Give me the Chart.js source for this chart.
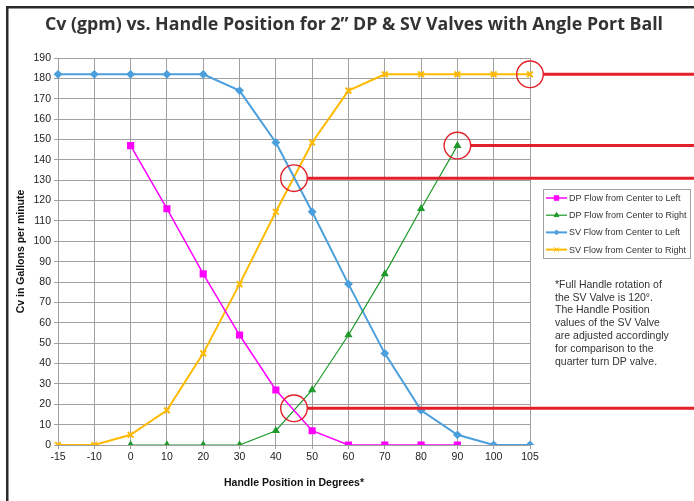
<!DOCTYPE html>
<html>
<head>
<meta charset="utf-8">
<script src="https://cdn.jsdelivr.net/npm/chart.js@4.4.1/dist/chart.umd.min.js"></script>
<style>
  html, body { margin: 0; padding: 0; background: #fff; }
  #wrap { width: 694px; height: 501px; position: relative; }
</style>
</head>
<body>
<div id="wrap"><canvas id="cvChart" width="694" height="501"></canvas></div>
<script>
const positions = ["-15", "-10", "0", "10", "20", "30", "40", "50", "60", "70", "80", "90", "100", "105"];
const positionDeg = [-15, -10, 0, 10, 20, 30, 40, 50, 60, 70, 80, 90, 100, 105];

const dpLeft = [null, null, 147, 116, 84, 54, 27, 7, 0, 0, 0, 0, null, null];
const dpRight = [null, null, 0, 0, 0, 0, 7, 27, 54, 84, 116, 147, null, null];
const svLeft = [182, 182, 182, 182, 182, 174, 148.5, 114.5, 79, 45, 17, 5, 0, 0];
const svRight = [0, 0, 5, 17, 45, 79, 114.5, 148.5, 174, 182, 182, 182, 182, 182];

// red callouts (degrees, Cv)
const calloutDeg = [105, 90, 45, 45];
const calloutCv = [182, 147, 131, 18];

const chartTitle = "Cv (gpm) vs. Handle Position for 2\u201D DP & SV Valves with Angle Port Ball";
const noteLines = [
  "*Full Handle rotation of",
  "the SV Valve is 120\u00B0.",
  "The Handle Position",
  "values of the SV Valve",
  "are adjusted accordingly",
  "for comparison to the",
  "quarter turn DP valve."
];

const FONT = "'Liberation Sans', Arial, sans-serif";

function degToIndex(deg) {
  for (let i = 0; i < positionDeg.length - 1; i++) {
    const a = positionDeg[i], b = positionDeg[i + 1];
    if (deg >= a && deg <= b) return i + (deg - a) / (b - a);
  }
  return positionDeg.length - 1;
}

const extras = {
  id: "extras",
  afterDraw(chart) {
    const ctx = chart.ctx;
    const xs = chart.scales.x, ys = chart.scales.y;
    ctx.save();

    // frame
    ctx.fillStyle = "#2a2a2a";
    ctx.fillRect(6, 6, 688, 2.5);
    ctx.fillRect(6, 6, 2.5, 495);

    // title
    ctx.fillStyle = "#333";
    ctx.font = "bold 18px 'Open Sans', 'DejaVu Sans', sans-serif";
    ctx.textBaseline = "middle";
    ctx.textAlign = "left";
    const tw = ctx.measureText(chartTitle).width;
    const target = 618;
    ctx.save();
    ctx.translate(45, 25);
    ctx.scale(Math.min(1, target / tw), 1);
    ctx.fillText(chartTitle, 0, 0);
    ctx.restore();

    // legend
    const lx = 543.5, ly = 189.5, lw = 147, lh = 69;
    ctx.fillStyle = "#fff";
    ctx.fillRect(lx, ly, lw, lh);
    ctx.strokeStyle = "#a0a0a0";
    ctx.lineWidth = 1;
    ctx.strokeRect(lx, ly, lw, lh);
    chart.data.datasets.forEach((ds, i) => {
      const y = 198 + i * 17.2;
      ctx.strokeStyle = ds.borderColor;
      ctx.lineWidth = ds.borderWidth;
      ctx.beginPath();
      ctx.moveTo(546, y);
      ctx.lineTo(567, y);
      ctx.stroke();
      ctx.fillStyle = ds.pointBackgroundColor;
      ctx.strokeStyle = ds.pointBorderColor;
      ctx.lineWidth = 1;
      Chart.helpers.drawPoint(ctx, { pointStyle: ds.pointStyle, rotation: 0, radius: ds.pointRadius * 0.8, borderWidth: 1 }, 556.5, y);
      ctx.fillStyle = "#333";
      ctx.font = "9px " + FONT;
      ctx.textAlign = "left";
      ctx.textBaseline = "middle";
      ctx.fillText(ds.label, 569, y + 0.5);
    });

    // note
    ctx.fillStyle = "#333";
    ctx.font = "10.5px " + FONT;
    noteLines.forEach((t, i) => ctx.fillText(t, 555, 285 + i * 12.8));

    // red callouts
    ctx.strokeStyle = "#e3202a";
    calloutDeg.forEach((d, i) => {
      const cx = xs.getPixelForValue(degToIndex(d));
      const cy = ys.getPixelForValue(calloutCv[i]);
      ctx.lineWidth = 1.4;
      ctx.beginPath();
      ctx.arc(cx, cy, 13.3, 0, Math.PI * 2);
      ctx.stroke();
      ctx.lineWidth = 3;
      ctx.beginPath();
      ctx.moveTo(cx + 13.3, cy);
      ctx.lineTo(694, cy);
      ctx.stroke();
    });
    ctx.restore();
  }
};

new Chart(document.getElementById("cvChart"), {
  type: "line",
  data: {
    labels: positions,
    datasets: [
      {
        label: "DP Flow from Center to Left",
        data: dpLeft,
        borderColor: "#ff00ff",
        backgroundColor: "#ff00ff",
        pointBackgroundColor: "#ff00ff",
        pointBorderColor: "#ff00ff",
        borderWidth: 1.5,
        pointStyle: "rect",
        pointRadius: 4,
        spanGaps: false
      },
      {
        label: "DP Flow from Center to Right",
        data: dpRight,
        borderColor: "#1e9a2a",
        backgroundColor: "#1e9a2a",
        pointBackgroundColor: "#1e9a2a",
        pointBorderColor: "#1e9a2a",
        borderWidth: 1.2,
        pointStyle: "triangle",
        pointRadius: 3.5,
        spanGaps: false
      },
      {
        label: "SV Flow from Center to Left",
        data: svLeft,
        borderColor: "#4a9fdc",
        backgroundColor: "#4a9fdc",
        pointBackgroundColor: "#4a9fdc",
        pointBorderColor: "#4a9fdc",
        borderWidth: 2,
        pointStyle: "rectRot",
        pointRadius: 3
      },
      {
        label: "SV Flow from Center to Right",
        data: svRight,
        borderColor: "#ffba00",
        backgroundColor: "#ffba00",
        pointBackgroundColor: "#ffba00",
        pointBorderColor: "#ffba00",
        borderWidth: 2,
        pointStyle: "crossRot",
        pointRadius: 4
      }
    ]
  },
  options: {
    responsive: false,
    animation: false,
    devicePixelRatio: 1,
    layout: { padding: { left: 8, top: 58, right: 164, bottom: 0 } },
    plugins: {
      legend: { display: false },
      tooltip: { enabled: false }
    },
    elements: { line: { tension: 0 } },
    scales: {
      x: {
        type: "category",
        offset: false,
        grid: { color: "#a0a0a0", tickLength: 4, offset: false },
        border: { color: "#a0a0a0" },
        ticks: { color: "#222", font: { family: FONT, size: 10.5 }, maxRotation: 0, autoSkip: false, padding: 2 },
        title: {
          display: true,
          text: "Handle Position in Degrees*",
          color: "#111",
          font: { family: FONT, size: 10.5, weight: "bold" },
          padding: { top: 0, bottom: 12 }
        },
        afterFit(scale) { scale.height = 56; }
      },
      y: {
        min: 0,
        max: 190,
        grid: { color: "#a0a0a0", tickLength: 4 },
        border: { color: "#a0a0a0" },
        ticks: { stepSize: 10, color: "#222", font: { family: FONT, size: 10.5 }, padding: 3 },
        title: {
          display: true,
          text: "Cv in Gallons per minute",
          color: "#111",
          font: { family: FONT, size: 10.5, weight: "bold" },
          padding: { top: 7, bottom: 0 }
        },
        afterFit(scale) { scale.width = 50; }
      }
    }
  },
  plugins: [extras]
});
</script>
</body>
</html>
